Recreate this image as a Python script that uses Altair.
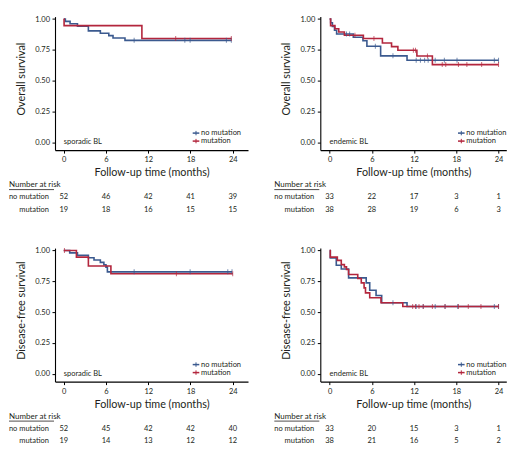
import altair as alt
import pandas as pd

FONT = "Lato"
TXT = "#231f20"
SMALL = 7.5

groups = ["no mutation", "mutation"]
colors = ["#3b5a8f", "#b3263d"]
time_ticks = [0, 6, 12, 18, 24]
surv_ticks = [0, 0.25, 0.5, 0.75, 1.0]

# ---- Overall survival, sporadic BL
os_spo_nm_t = [0, 0.23, 0.9, 1.95, 3.5, 5.2, 6.4, 7.0, 8.7]
os_spo_nm_s = [1, 0.981, 0.962, 0.942, 0.904, 0.885, 0.865, 0.846, 0.827]
os_spo_nm_c = [10.0, 17.2, 17.95, 23.1, 23.8]
os_spo_mu_t = [0, 0.05, 11.1]
os_spo_mu_s = [1, 0.947, 0.842]
os_spo_mu_c = [15.9, 23.8]
os_spo_risk_nm = [52, 46, 42, 41, 39]
os_spo_risk_mu = [19, 18, 16, 15, 15]

# ---- Overall survival, endemic BL
os_end_nm_t = [0, 0.15, 0.4, 0.7, 1.0, 3.37, 4.74, 5.3, 7.25, 11.0]
os_end_nm_s = [1, 0.97, 0.939, 0.909, 0.879, 0.852, 0.824, 0.779, 0.701, 0.665]
os_end_nm_c = [2.4, 2.85, 6.5, 9.0, 12.3, 12.9, 13.5, 14.0, 15.0, 16.3, 18.1, 23.4, 24.0]
os_end_mu_t = [0, 0.14, 0.76, 1.3, 2.1, 4.8, 7.5, 8.8, 9.7, 12.4, 14.6]
os_end_mu_s = [1, 0.947, 0.921, 0.895, 0.868, 0.842, 0.806, 0.776, 0.746, 0.70, 0.63]
os_end_mu_c = [3.6, 6.3, 11.9, 12.2, 13.9, 16.0, 16.5, 18.3, 19.5, 21.6, 24.0]
os_end_risk_nm = [33, 22, 17, 3, 1]
os_end_risk_mu = [38, 28, 19, 6, 3]

# ---- Disease-free survival, sporadic BL
dfs_spo_nm_t = [0, 0.85, 1.95, 3.5, 4.3, 5.2, 5.7, 6.0, 6.2]
dfs_spo_nm_s = [1, 0.981, 0.962, 0.942, 0.923, 0.904, 0.885, 0.865, 0.827]
dfs_spo_nm_c = [10.0, 17.95, 23.3, 23.9]
dfs_spo_mu_t = [0, 1.8, 3.5, 6.7]
dfs_spo_mu_s = [1, 0.947, 0.874, 0.812]
dfs_spo_mu_c = [0.1, 16.0, 24.0]
dfs_spo_risk_nm = [52, 45, 42, 42, 40]
dfs_spo_risk_mu = [19, 14, 13, 12, 12]

# ---- Disease-free survival, endemic BL
dfs_end_nm_t = [0, 0.1, 0.95, 1.66, 2.7, 5.2, 5.7, 6.6, 7.4, 11.0]
dfs_end_nm_s = [1, 0.94, 0.88, 0.85, 0.778, 0.737, 0.678, 0.635, 0.576, 0.545]
dfs_end_nm_c = [9.0, 12.3, 13.3, 15.0, 16.4, 18.2, 23.4, 24.0]
dfs_end_mu_t = [0, 0.1, 1.1, 1.66, 2.1, 2.4, 2.7, 4.0, 4.5, 4.9, 5.1, 5.7, 7.3, 10.4]
dfs_end_mu_s = [1, 0.947, 0.92, 0.886, 0.867, 0.846, 0.805, 0.773, 0.737, 0.697, 0.656, 0.616, 0.576, 0.545]
dfs_end_mu_c = [11.8, 12.2, 12.7, 13.3, 14.6, 16.4, 18.3, 19.7, 21.5, 24.0]
dfs_end_risk_nm = [33, 20, 15, 3, 1]
dfs_end_risk_mu = [38, 21, 16, 5, 2]

H = 133.5
YDOM = [-0.065, 1.02]


def surv_at(ts, ss, t):
    v = ss[0]
    for ti, si in zip(ts, ss):
        if ti <= t:
            v = si
    return v


def panel(curves, risk, ytitle, label, width, xdom):
    xs = alt.Scale(domain=xdom, nice=False, zero=False)
    ys = alt.Scale(domain=YDOM, nice=False, zero=False)
    xax = alt.Axis(values=time_ticks, title="Follow-up time (months)", grid=False,
                   labelPadding=2.5, titlePadding=3.5, labelFlush=False)
    yax = alt.Axis(values=surv_ticks, format=".2f", title=ytitle, grid=False,
                   labelPadding=2.5, titlePadding=8, titleY=62)
    X = alt.X("t:Q", scale=xs, axis=xax)
    Y = alt.Y("s:Q", scale=ys, axis=yax)
    C = alt.Color("g:N", scale=alt.Scale(domain=groups, range=colors), legend=None)

    line_rows, cens_rows = [], []
    for g, (ts, ss, cs) in zip(groups, curves):
        end = max(cs)
        for ti, si in zip(ts, ss):
            line_rows.append({"t": ti, "s": si, "g": g})
        line_rows.append({"t": end, "s": ss[-1], "g": g})
        for c in cs:
            cens_rows.append({"t": c, "s": surv_at(ts, ss, c), "g": g})

    lines = alt.Chart(pd.DataFrame(line_rows)).mark_line(
        interpolate="step-after", strokeWidth=1.6).encode(X, Y, C)
    ticks = alt.Chart(pd.DataFrame(cens_rows)).mark_tick(
        orient="vertical", size=5, thickness=1).encode(X, Y, C)
    lab = alt.Chart(pd.DataFrame({"t": [0], "s": [0], "txt": [label]})).mark_text(
        align="left", baseline="middle", fontSize=SMALL, font=FONT, color=TXT
    ).encode(X, Y, text="txt:N")

    layers = [lines, ticks, lab]

    head = alt.Chart(pd.DataFrame({"txt": ["Number at risk"]})).mark_text(
        align="left", baseline="middle", fontSize=8, font=FONT, color=TXT
    ).encode(x=alt.value(-46), y=alt.value(H + 35), text="txt:N")
    uline = alt.Chart(pd.DataFrame({"txt": ["u"]})).mark_rule(
        color=TXT, strokeWidth=0.8
    ).encode(x=alt.value(-46), x2=alt.value(-1), y=alt.value(H + 39.5))
    layers += [head, uline]

    for i, g in enumerate(groups):
        ry = H + 47 + 12.5 * i
        df = pd.DataFrame({"t": time_ticks, "n": risk[i]})
        layers.append(alt.Chart(df).mark_text(
            fontSize=SMALL, font=FONT, color=TXT, baseline="middle", align="center"
        ).encode(x=X, y=alt.value(ry), text="n:Q"))
        gdf = pd.DataFrame({"g": [g]})
        layers.append(alt.Chart(gdf).mark_text(
            fontSize=SMALL, font=FONT, color=TXT, baseline="middle", align="right"
        ).encode(x=alt.value(-6), y=alt.value(ry), text="g:N"))
        # legend entries
        ly = 116.5 + 8 * i
        layers.append(alt.Chart(gdf).mark_rule(color=colors[i], strokeWidth=1.5).encode(
            x=alt.value(137.7), x2=alt.value(144.3), y=alt.value(ly)))
        layers.append(alt.Chart(gdf).mark_rule(color=colors[i], strokeWidth=1).encode(
            x=alt.value(141), y=alt.value(ly - 2.2), y2=alt.value(ly + 2.2)))
        layers.append(alt.Chart(gdf).mark_text(
            fontSize=SMALL, font=FONT, color=TXT, baseline="middle", align="left"
        ).encode(x=alt.value(146), y=alt.value(ly), text="g:N"))

    return alt.layer(*layers).properties(width=width, height=H)


WL, WR = 193, 186
XL = [-1.24, 26.17]
XR = [-1.32, 25.1]

tl = panel([(os_spo_nm_t, os_spo_nm_s, os_spo_nm_c), (os_spo_mu_t, os_spo_mu_s, os_spo_mu_c)],
           [os_spo_risk_nm, os_spo_risk_mu], "Overall survival", "sporadic BL", WL, XL)
tr = panel([(os_end_nm_t, os_end_nm_s, os_end_nm_c), (os_end_mu_t, os_end_mu_s, os_end_mu_c)],
           [os_end_risk_nm, os_end_risk_mu], "Overall survival", "endemic BL", WR, XR)
bl = panel([(dfs_spo_nm_t, dfs_spo_nm_s, dfs_spo_nm_c), (dfs_spo_mu_t, dfs_spo_mu_s, dfs_spo_mu_c)],
           [dfs_spo_risk_nm, dfs_spo_risk_mu], "Disease-free survival", "sporadic BL", WL, XL)
br = panel([(dfs_end_nm_t, dfs_end_nm_s, dfs_end_nm_c), (dfs_end_mu_t, dfs_end_mu_s, dfs_end_mu_c)],
           [dfs_end_risk_nm, dfs_end_risk_mu], "Disease-free survival", "endemic BL", WR, XR)

chart = alt.concat(
    tl, tr, bl, br, columns=2, bounds="flush",
    spacing={"row": 97.5, "column": 72.3},
).resolve_scale(
    x="independent", y="independent"
).properties(
    padding={"left": 0, "top": 6.6, "right": 0, "bottom": 0},
    background="white",
).configure_view(stroke=None).configure_axis(
    labelFont=FONT, titleFont=FONT, labelFontSize=SMALL, titleFontSize=10.8,
    labelColor=TXT, titleColor=TXT, titleFontWeight="normal",
    domainColor="black", tickColor="black", tickSize=3, domainWidth=1.1, tickWidth=1,
)

chart.save("out.html", embed_options={"renderer": "svg", "actions": False})
